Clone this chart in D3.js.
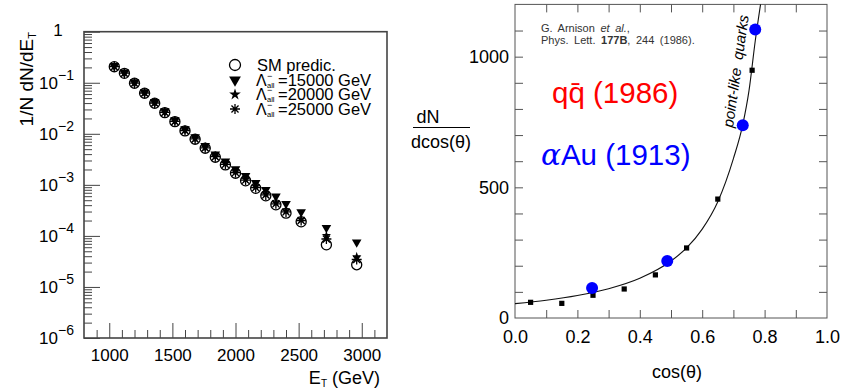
<!DOCTYPE html>
<html>
<head>
<meta charset="utf-8">
<script src="https://cdn.jsdelivr.net/npm/d3@7"></script>
<style>
  body { margin: 0; background: #fff; }
  svg { display: block; font-family: "Liberation Sans", Arial, sans-serif; }
</style>
</head>
<body>
<div id="chart"></div>
<script>
"use strict";

// ---- left panel: E_T spectra ----
const etBins = [1040, 1120, 1200, 1280, 1360, 1440, 1520, 1600, 1680, 1760, 1840,
  1920, 2000, 2080, 2160, 2240, 2320, 2400, 2520, 2720, 2960];
const smPredic = [0.206, 0.153, 0.0977, 0.0624, 0.0397, 0.0260, 0.0173, 0.0114, 0.00783, 0.00522,
  0.00348, 0.00246, 0.00169, 0.00120, 0.000855, 0.000610, 0.000406, 0.000279, 0.000189, 0.0000670, 0.0000272];
const lambda15000 = [0.215, 0.160, 0.103, 0.0660, 0.0422, 0.0278, 0.0186, 0.0124, 0.00860, 0.00580,
  0.00395, 0.00290, 0.00205, 0.00150, 0.00110, 0.00080, 0.000594, 0.000428, 0.000293, 0.000145, 0.0000750];
const lambda20000 = [0.210, 0.156, 0.0995, 0.0637, 0.0406, 0.0267, 0.0178, 0.0118, 0.00810, 0.00543,
  0.00364, 0.00260, 0.00180, 0.00128, 0.000920, 0.000660, 0.000445, 0.000310, 0.000210, 0.000102, 0.0000390];
const lambda25000 = [0.207, 0.154, 0.0985, 0.0630, 0.0401, 0.0263, 0.0175, 0.0116, 0.00795, 0.00532,
  0.00356, 0.00252, 0.00174, 0.00124, 0.000885, 0.000635, 0.000425, 0.000295, 0.000200, 0.0000870, 0.0000345];
const legendLabels = ["SM predic.", "=15000 GeV", "=20000 GeV", "=25000 GeV"];
const etTicks = [1000, 1500, 2000, 2500, 3000];
const logExponents = [0, -1, -2, -3, -4, -5, -6];

// ---- right panel: angular distribution ----
const cosUA1 = [0.05, 0.15, 0.25, 0.35, 0.45, 0.55, 0.65, 0.76];
const dnUA1 = [60, 56, 87, 111, 165, 268, 455, 948];
const cosGeiger = [0.247, 0.488, 0.730, 0.770];
const dnGeiger = [115, 218, 738, 1104];
const cosCurve = [0, 0.1, 0.2, 0.3, 0.4, 0.5, 0.55, 0.6, 0.65, 0.7, 0.73, 0.75, 0.77, 0.787];
const dnCurve = [55, 68, 86, 112, 152, 218, 268, 340, 445, 610, 740, 870, 1060, 1200];
const cosTicks = [0, 0.2, 0.4, 0.6, 0.8, 1.0];
const dnTicks = [0, 500, 1000];

const W = 841, H = 391;
const svg = d3.select("#chart").append("svg").attr("width", W).attr("height", H);

// ================= left panel =================
const L = { left: 84, right: 387, top: 31.7, bottom: 338 };
const xE = d3.scaleLinear().domain([800, 3200]).range([L.left, L.right]);
const yL = d3.scaleLog().domain([1e-6, 1]).range([L.bottom, L.top]);
const frameCol = "#444";

// minor / major ticks on the log axis
const minorVals = [];
for (let e = -6; e < 0; e++) {
  for (let m = 2; m <= 9; m++) minorVals.push(m * Math.pow(10, e));
}
svg.append("g").attr("transform", `translate(${L.left},0)`)
  .call(d3.axisLeft(yL).tickValues(minorVals).tickSize(-8).tickFormat(""))
  .call(g => g.select(".domain").remove())
  .selectAll("line").attr("stroke", frameCol);
svg.append("g").attr("transform", `translate(${L.left},0)`)
  .call(d3.axisLeft(yL).tickValues(logExponents.map(e => Math.pow(10, e))).tickSize(-16).tickFormat(""))
  .call(g => g.select(".domain").remove())
  .selectAll("line").attr("stroke", frameCol);

// x axis ticks
svg.append("g").attr("transform", `translate(0,${L.bottom})`)
  .call(d3.axisBottom(xE).tickValues(d3.range(900, 3200, 100).filter(v => v % 500 !== 0)).tickSize(-8).tickFormat(""))
  .call(g => g.select(".domain").remove())
  .selectAll("line").attr("stroke", frameCol);
svg.append("g").attr("transform", `translate(0,${L.bottom})`)
  .call(d3.axisBottom(xE).tickValues(etTicks).tickSize(-15).tickPadding(11).tickFormat(d3.format("d")))
  .call(g => g.select(".domain").remove())
  .call(g => g.selectAll("line").attr("stroke", frameCol))
  .call(g => g.selectAll("text").attr("font-size", 17).attr("fill", "#000")
    .attr("font-family", "Liberation Sans, Arial, sans-serif"));

svg.append("rect")
  .attr("x", L.left).attr("y", L.top)
  .attr("width", L.right - L.left).attr("height", L.bottom - L.top)
  .attr("fill", "none").attr("stroke", frameCol).attr("stroke-width", 1.6);

// y tick labels 1, 10^-1 ...
logExponents.forEach(e => {
  const y = yL(Math.pow(10, e));
  if (e === 0) {
    svg.append("text").attr("x", 58).attr("y", y + 4).attr("text-anchor", "middle")
      .attr("font-size", 17).text("1");
  } else {
    const t = svg.append("text").attr("x", 39).attr("y", y + 6).attr("font-size", 17);
    t.append("tspan").text("10");
    t.append("tspan").attr("x", 58).attr("dy", -9).attr("font-size", 14).text("\u2212" + (-e));
  }
});

// axis titles
const yTitle = svg.append("text")
  .attr("transform", "translate(33,32) rotate(-90)")
  .attr("text-anchor", "end").attr("font-size", 19);
yTitle.append("tspan").text("1/N dN/dE");
yTitle.append("tspan").attr("font-size", 11).attr("dy", 3).text("T");

const xTitle = svg.append("text").attr("x", 380).attr("y", 384)
  .attr("text-anchor", "end").attr("font-size", 18);
xTitle.append("tspan").text("E");
xTitle.append("tspan").attr("font-size", 10).attr("dy", 3).text("T");
xTitle.append("tspan").attr("dy", -3).text(" (GeV)");

// markers
const asteriskType = {
  draw(ctx, size) {
    const r = Math.sqrt(size) / 2;
    const d = r * Math.SQRT1_2;
    ctx.moveTo(-r, 0); ctx.lineTo(r, 0);
    ctx.moveTo(0, -r); ctx.lineTo(0, r);
    ctx.moveTo(-d, -d); ctx.lineTo(d, d);
    ctx.moveTo(-d, d); ctx.lineTo(d, -d);
  }
};
const series = [
  { vals: smPredic, type: d3.symbolCircle, size: 80, fill: "none", stroke: "#000", rot: 0 },
  { vals: lambda15000, type: d3.symbolTriangle, size: 40, fill: "#000", stroke: "none", rot: 180 },
  { vals: lambda20000, type: d3.symbolStar, size: 28, fill: "#000", stroke: "none", rot: 0 },
  { vals: lambda25000, type: asteriskType, size: 100, fill: "none", stroke: "#000", rot: 0 }
];
series.forEach(s => {
  svg.append("g").selectAll("path")
    .data(etBins.map((e, i) => [e, s.vals[i]]))
    .join("path")
    .attr("d", d3.symbol().type(s.type).size(s.size))
    .attr("transform", d => `translate(${xE(d[0])},${yL(d[1])}) rotate(${s.rot})`)
    .attr("fill", s.fill).attr("stroke", s.stroke).attr("stroke-width", 1.3);
});

// legend
const legRows = [65, 80, 94.5, 109];
series.forEach((s, i) => {
  const y = legRows[i];
  svg.append("path")
    .attr("d", d3.symbol().type(s.type).size(i === 0 ? 95 : (i === 3 ? 100 : s.size * 1.5))())
    .attr("transform", `translate(235,${y}) rotate(${s.rot})`)
    .attr("fill", s.fill).attr("stroke", s.stroke).attr("stroke-width", 1.3);
  if (i === 0) {
    svg.append("text").attr("x", 257).attr("y", y + 5.5).attr("font-size", 16.5).text(legendLabels[i]);
  } else {
    const t = svg.append("text").attr("x", 256).attr("y", y + 5.5).attr("font-size", 16);
    t.append("tspan").text("\u039B");
    t.append("tspan").attr("x", 267).attr("dy", -7).attr("font-size", 9).text("\u2212");
    t.append("tspan").attr("x", 267).attr("dy", 9).attr("font-size", 7.5).text("all");
    t.append("tspan").attr("x", 278).attr("dy", -2).attr("font-size", 16.5).text(legendLabels[i]);
  }
});

// ================= right panel =================
const R = { left: 515, right: 827, top: 4.4, bottom: 318 };
const xC = d3.scaleLinear().domain([0, 1]).range([R.left, R.right]);
const yR = d3.scaleLinear().domain([0, 1200]).range([R.bottom, R.top]);
const rCol = "#555";
const tenths = d3.range(0.1, 1.0, 0.1);
const hundreds = d3.range(100, 1200, 100);

function styleAxis(g) {
  g.select(".domain").remove();
  g.selectAll("line").attr("stroke", rCol);
  g.selectAll("text").attr("font-size", 18).attr("fill", "#000")
    .attr("font-family", "Liberation Sans, Arial, sans-serif");
}
svg.append("g").attr("transform", `translate(0,${R.bottom})`)
  .call(d3.axisBottom(xC).tickValues(tenths).tickSize(-8).tickFormat(""))
  .call(styleAxis);
svg.append("g").attr("transform", `translate(0,${R.bottom})`)
  .call(d3.axisBottom(xC).tickValues(cosTicks).tickSize(0).tickPadding(12).tickFormat(d3.format(".1f")))
  .call(styleAxis);
svg.append("g").attr("transform", `translate(0,${R.top})`)
  .call(d3.axisTop(xC).tickValues(tenths).tickSize(-8).tickFormat(""))
  .call(styleAxis);
svg.append("g").attr("transform", `translate(${R.left},0)`)
  .call(d3.axisLeft(yR).tickValues(hundreds).tickSize(-8).tickFormat(""))
  .call(styleAxis);
svg.append("g").attr("transform", `translate(${R.left},0)`)
  .call(d3.axisLeft(yR).tickValues(dnTicks).tickSize(0).tickPadding(6).tickFormat(d3.format("d")))
  .call(styleAxis);
svg.append("g").attr("transform", `translate(${R.right},0)`)
  .call(d3.axisRight(yR).tickValues(hundreds).tickSize(-8).tickFormat(""))
  .call(styleAxis);

svg.append("rect")
  .attr("x", R.left).attr("y", R.top)
  .attr("width", R.right - R.left).attr("height", R.bottom - R.top)
  .attr("fill", "none").attr("stroke", rCol).attr("stroke-width", 1);

// curve
svg.append("path")
  .datum(cosCurve.map((c, i) => [c, dnCurve[i]]))
  .attr("fill", "none").attr("stroke", "#111").attr("stroke-width", 1.1)
  .attr("d", d3.line().x(d => xC(d[0])).y(d => yR(d[1])).curve(d3.curveMonotoneX));

// UA1 squares
svg.append("g").selectAll("rect")
  .data(cosUA1.map((c, i) => [c, dnUA1[i]]))
  .join("rect")
  .attr("x", d => xC(d[0]) - 2.6).attr("y", d => yR(d[1]) - 2.6)
  .attr("width", 5.2).attr("height", 5.2).attr("fill", "#000");

// Geiger–Marsden blue points
svg.append("g").selectAll("circle")
  .data(cosGeiger.map((c, i) => [c, dnGeiger[i]]))
  .join("circle")
  .attr("cx", d => xC(d[0])).attr("cy", d => yR(d[1]))
  .attr("r", 6).attr("fill", "#0000ff");

// titles
svg.append("text").attr("x", 677).attr("y", 378).attr("text-anchor", "middle")
  .attr("font-size", 18).text("cos(\u03B8)");
svg.append("text").attr("x", 428).attr("y", 123).attr("text-anchor", "middle")
  .attr("font-size", 18).text("dN");
svg.append("line").attr("x1", 413).attr("x2", 470).attr("y1", 127.5).attr("y2", 127.5)
  .attr("stroke", "#000").attr("stroke-width", 1);
svg.append("text").attr("x", 441).attr("y", 148).attr("text-anchor", "middle")
  .attr("font-size", 18).text("dcos(\u03B8)");

// reference note
const ref1 = svg.append("text").attr("x", 541).attr("y", 31.5).attr("font-size", 11)
  .attr("fill", "#333").attr("word-spacing", 2.5);
ref1.append("tspan").text("G. Arnison ");
ref1.append("tspan").attr("font-style", "italic").text("et al.");
ref1.append("tspan").text(",");
const ref2 = svg.append("text").attr("x", 541).attr("y", 44.3).attr("font-size", 11)
  .attr("fill", "#333").attr("word-spacing", 2.5);
ref2.append("tspan").text("Phys. Lett. ");
ref2.append("tspan").attr("font-weight", "bold").text("177B");
ref2.append("tspan").text(", 244 (1986).");

// big labels
svg.append("text").attr("x", 552).attr("y", 103).attr("font-size", 29.5)
  .attr("fill", "#ff0000").text("qq\u0304 (1986)");
const au = svg.append("text").attr("x", 541).attr("y", 165).attr("font-size", 29.5).attr("fill", "#0000ff");
au.append("tspan").attr("font-family", "DejaVu Serif, serif").attr("font-style", "italic").text("\u03B1");
au.append("tspan").text("Au (1913)");

svg.append("text")
  .attr("transform", "translate(733,128) rotate(-82)")
  .attr("font-size", 15).attr("font-style", "italic").attr("xml:space", "preserve")
  .text("point-like  quarks");
</script>
</body>
</html>
